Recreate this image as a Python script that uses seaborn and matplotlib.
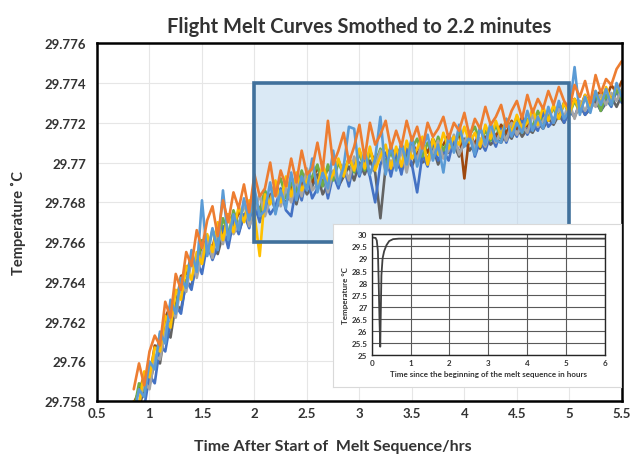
import numpy as np
import pandas as pd
import matplotlib
matplotlib.use("Agg")
import matplotlib.pyplot as plt
from matplotlib.patches import Rectangle
from matplotlib.ticker import FuncFormatter, MultipleLocator
import seaborn as sns

# sample times in hours (one point every 3 minutes)
time_hrs = np.round(np.arange(0.85, 5.5001, 0.05), 2)

# melt curves, in mK above 29.750 C
orange_mk = [8.6, 9.9, 8.8, 10.5, 11.3, 10.8, 13.0, 12.2, 14.4, 13.6,
             15.5, 14.8, 16.6, 15.7, 17.1, 17.8, 16.3, 18.1, 17.0, 18.5,
             17.7, 18.9, 17.5, 19.4, 18.3, 18.7, 20.0, 18.3, 19.6, 18.8,
             20.2, 19.0, 20.6, 19.4, 19.7, 21.0, 19.6, 22.1, 19.9, 20.6,
             21.5, 20.0, 20.8, 21.9, 20.2, 22.0, 20.9, 21.4, 22.1, 20.7,
             21.6, 20.8, 22.1, 21.1, 21.8, 20.7, 22.0, 21.3, 21.7, 22.3,
             21.2, 22.0, 21.6, 22.5, 21.3, 22.2, 21.7, 22.8, 21.9, 22.3,
             22.9, 21.8, 22.6, 23.1, 22.2, 23.4, 22.5, 23.2, 22.7, 23.6,
             22.9, 23.8, 23.1, 22.7, 23.9, 23.3, 24.1, 23.0, 24.4, 23.5,
             24.2, 23.9, 24.7, 25.1]
blue_mk = [7.3, 8.6, 8.2, 10.0, 9.6, 11.5, 10.9, 13.1, 12.4, 14.2,
           13.7, 15.6, 14.5, 18.1, 15.3, 16.7, 15.6, 18.6, 16.1, 17.4,
           16.6, 18.2, 17.1, 18.7, 17.3, 17.6, 19.0, 17.4, 18.6, 17.7,
           19.5, 18.1, 19.3, 18.6, 20.2, 18.5, 19.5, 18.7, 20.6, 18.9,
           19.8, 21.8, 21.7, 19.4, 20.6, 19.4, 20.2, 22.3, 19.4, 20.9,
           19.6, 21.0, 19.9, 21.3, 19.8, 20.7, 21.4, 20.1, 20.9, 19.5,
           21.4, 20.5, 21.9, 20.8, 21.3, 20.4, 21.8, 20.9, 22.0, 21.1,
           21.0, 22.2, 21.3, 22.0, 21.5, 22.6, 21.6, 22.3, 21.7, 22.8,
           22.0, 23.1, 22.2, 22.6, 24.8, 22.4, 23.3, 22.5, 23.6, 22.9,
           23.7, 22.9, 24.0, 23.3]
gray_mk = [7.0, 7.9, 9.0, 8.6, 10.3, 10.1, 11.5, 12.6, 12.2, 13.9,
           13.5, 15.1, 14.2, 15.4, 16.1, 15.2, 16.7, 15.9, 17.3, 16.4,
           16.9, 18.0, 16.8, 17.5, 18.4, 17.3, 18.1, 18.9, 17.8, 18.7,
           18.0, 19.1, 18.3, 19.7, 18.6, 18.9, 19.7, 18.5, 19.6, 19.0,
           19.9, 19.1, 20.3, 19.5, 20.4, 19.5, 19.8, 20.6, 19.5, 20.1,
           19.7, 20.6, 19.5, 20.8, 20.1, 21.2, 19.9, 20.5, 21.1, 20.2,
           20.6, 21.4, 20.4, 21.0, 21.6, 20.7, 21.2, 20.8, 21.7, 21.0,
           21.6, 21.1, 22.0, 21.4, 21.9, 21.5, 22.4, 21.8, 22.1, 22.6,
           22.0, 22.7, 22.3, 23.0, 22.2, 23.1, 22.6, 23.2, 22.8, 23.4,
           22.9, 23.5, 23.1, 23.7]
yellow_mk = [8.0, 7.8, 9.5, 9.2, 10.7, 10.5, 12.3, 11.7, 13.6, 13.1,
             14.8, 14.1, 15.5, 14.9, 16.4, 15.5, 17.0, 16.1, 17.4, 16.5,
             17.8, 17.0, 18.1, 17.4, 15.3, 18.4, 17.9, 19.1, 18.0, 19.3,
             18.3, 19.5, 18.6, 19.1, 19.9, 18.8, 19.9, 19.0, 19.4, 20.2,
             19.3, 20.3, 19.6, 20.7, 19.7, 20.8, 19.6, 20.3, 20.9, 19.7,
             20.8, 19.8, 21.1, 20.2, 20.7, 21.3, 19.9, 21.2, 20.4, 21.5,
             20.7, 21.3, 20.9, 21.8, 21.0, 21.5, 20.8, 21.9, 21.2, 22.1,
             21.3, 22.2, 21.5, 22.4, 21.7, 22.0, 22.7, 21.9, 22.8, 22.1,
             22.9, 22.2, 23.0, 22.5, 23.2, 22.6, 23.4, 22.8, 23.6, 23.0,
             23.8, 23.1, 23.9, 23.4]
darkblue_mk = [6.8, 8.0, 7.7, 9.3, 8.9, 10.8, 10.5, 12.0, 12.8, 12.4,
               14.1, 13.6, 15.1, 14.4, 15.9, 15.1, 15.8, 16.8, 15.7, 17.1,
               16.4, 17.4, 16.7, 17.9, 17.0, 18.1, 17.4, 17.8, 18.7, 17.6,
               17.3, 18.9, 18.1, 19.3, 18.2, 18.7, 19.6, 18.2, 19.4, 18.7,
               19.8, 18.8, 20.1, 19.3, 20.2, 19.3, 18.0, 19.9, 20.5, 19.3,
               20.5, 19.4, 20.7, 19.9, 18.5, 20.4, 19.8, 21.0, 20.1, 20.6,
               20.1, 21.2, 20.5, 20.9, 21.5, 20.3, 21.1, 20.6, 21.4, 20.8,
               21.7, 21.0, 21.8, 21.3, 22.2, 21.4, 21.9, 21.6, 22.5, 21.8,
               22.1, 22.9, 22.0, 22.6, 22.3, 23.0, 22.4, 22.8, 23.3, 22.6,
               23.2, 22.8, 23.6, 23.0]
green_mk = [7.5, 8.9, 8.5, 9.9, 9.7, 11.4, 11.3, 12.9, 12.6, 14.2,
            13.9, 15.4, 14.7, 16.1, 15.4, 16.6, 16.0, 17.2, 16.4, 17.6,
            16.8, 17.9, 17.3, 18.3, 17.5, 18.6, 18.0, 18.6, 19.2, 18.2,
            19.0, 18.5, 19.6, 18.8, 19.3, 19.9, 18.8, 19.9, 19.1, 20.0,
            19.4, 20.2, 19.5, 20.5, 19.6, 20.5, 19.9, 20.7, 19.9, 20.5,
            19.9, 20.9, 20.1, 20.7, 21.2, 20.3, 21.0, 20.4, 21.3, 20.6,
            21.2, 20.6, 21.6, 20.9, 21.4, 21.8, 21.0, 21.6, 21.1, 21.9,
            21.2, 22.0, 21.6, 22.3, 21.5, 22.2, 21.8, 22.6, 22.0, 22.4,
            22.7, 22.2, 23.0, 22.4, 23.1, 22.5, 23.3, 22.7, 23.5, 22.6,
            23.4, 22.9, 23.7, 23.1]
darkgray_mk = [7.1, 7.7, 8.6, 8.8, 10.0, 9.9, 11.7, 11.2, 12.9, 12.6,
               14.0, 13.8, 14.9, 15.0, 15.5, 15.8, 15.4, 16.4, 16.1, 16.8,
               16.5, 17.3, 17.1, 17.7, 17.2, 17.5, 18.4, 17.6, 18.2, 18.0,
               18.5, 17.9, 19.0, 18.4, 18.8, 19.4, 18.4, 18.9, 19.5, 18.8,
               19.3, 19.8, 19.1, 20.0, 19.4, 20.1, 19.5, 17.2, 19.8, 19.6,
               20.0, 19.6, 20.3, 19.8, 20.5, 20.0, 20.2, 20.8, 19.9, 20.5,
               20.5, 20.9, 20.3, 21.2, 20.6, 21.0, 20.7, 21.3, 20.9, 21.2,
               21.0, 21.5, 21.2, 21.8, 21.3, 21.7, 21.5, 22.0, 21.7, 22.2,
               21.9, 22.4, 22.0, 22.6, 22.3, 22.9, 22.4, 22.7, 23.1, 22.6,
               23.0, 23.3, 22.8, 23.4]
brown_mk = [7.9, 8.5, 9.3, 9.1, 10.8, 10.7, 12.2, 12.8, 12.7, 14.3,
            14.4, 15.3, 14.8, 15.9, 16.1, 15.7, 16.9, 16.3, 17.4, 16.7,
            17.5, 17.2, 18.0, 18.1, 17.6, 18.5, 18.2, 19.0, 18.3, 19.1,
            18.6, 19.4, 18.7, 19.6, 19.0, 19.8, 18.9, 19.8, 19.2, 20.1,
            19.5, 20.2, 19.7, 20.6, 19.8, 20.6, 20.0, 20.6, 20.0, 20.8,
            20.1, 20.9, 20.3, 21.1, 20.4, 21.0, 20.5, 21.2, 20.7, 20.9,
            21.4, 20.8, 21.6, 19.2, 21.5, 20.9, 21.7, 21.1, 21.8, 21.3,
            21.9, 21.5, 22.1, 21.7, 22.3, 21.8, 22.5, 22.0, 22.6, 22.2,
            22.8, 22.3, 23.0, 22.6, 23.2, 22.7, 23.4, 22.9, 23.3, 23.6,
            23.2, 23.9, 23.5, 24.1]

series_names = ["darkgray", "brown", "darkblue", "green", "gray", "yellow", "blue", "orange"]
series_colors = ["#636363", "#9E480E", "#4472C4", "#70AD47", "#A5A5A5", "#FFC000", "#5B9BD5", "#ED7D31"]

# full melt sequence shown in the inset
inset_time = [0, 0.05, 0.1, 0.13, 0.16, 0.18, 0.2, 0.22, 0.23, 0.25, 0.28, 0.32,
              0.38, 0.45, 0.55, 0.7, 1, 2, 3, 4, 5, 6]
inset_temp = [29.88, 29.86, 29.85, 29.75, 29.3, 28.0, 26.5, 25.35, 26.4, 28.3, 29.0, 29.3,
              29.55, 29.72, 29.8, 29.82, 29.82, 29.82, 29.82, 29.82, 29.82, 29.82]

# zoom box drawn on the main chart (hours, C)
box_t0, box_t1 = 2, 5
box_lo, box_hi = 29.766, 29.774

sns.set_theme(style="white")
plt.rcParams["font.family"] = ["Lato", "DejaVu Sans"]
TXT = "#333333"

curves = {"darkgray": darkgray_mk, "brown": brown_mk, "darkblue": darkblue_mk, "green": green_mk,
          "gray": gray_mk, "yellow": yellow_mk, "blue": blue_mk, "orange": orange_mk}
frames = []
for name in series_names:
    frames.append(pd.DataFrame({"time": time_hrs, "temp": 29.75 + np.array(curves[name]) / 1000.0,
                                "series": name}))
df = pd.concat(frames, ignore_index=True)

fig = plt.figure(figsize=(6.3, 4.56), dpi=100)
ax = fig.add_axes([0.154, 0.118, 0.833, 0.785])

ax.add_patch(Rectangle((box_t0, box_lo), box_t1 - box_t0, box_hi - box_lo,
                       facecolor="#bdd7ee", alpha=0.55, edgecolor="none", zorder=1))
sns.lineplot(data=df, x="time", y="temp", hue="series", hue_order=series_names,
             palette=series_colors, legend=False, sort=False, linewidth=1.9, ax=ax, zorder=2)
ax.add_patch(Rectangle((box_t0, box_lo), box_t1 - box_t0, box_hi - box_lo,
                       facecolor="none", edgecolor="#41719C", linewidth=2.6, zorder=3))

ax.set_xlim(0.5, 5.5)
ax.set_ylim(29.758, 29.776)
ax.xaxis.set_major_locator(MultipleLocator(0.5))
ax.yaxis.set_major_locator(MultipleLocator(0.002))
ax.xaxis.set_major_formatter(FuncFormatter(lambda v, p: f"{v:g}"))
ax.yaxis.set_major_formatter(FuncFormatter(lambda v, p: f"{round(v, 3):g}"))
ax.grid(True, color="#e6e6e6", linewidth=0.8)
ax.set_axisbelow(True)
for s in ax.spines.values():
    s.set_color("black")
    s.set_linewidth(1.8)
ax.tick_params(axis="y", length=0, labelsize=9.5, labelcolor=TXT, pad=8)
ax.tick_params(axis="x", length=0, labelsize=9.5, labelcolor=TXT, pad=4)
for lab in ax.get_xticklabels() + ax.get_yticklabels():
    lab.set_fontweight("bold")

ax.set_title("Flight Melt Curves Smothed to 2.2 minutes", fontsize=14.5, fontweight="bold",
             color=TXT, pad=8)
ax.set_xlabel("Time After Start of  Melt Sequence/hrs", fontsize=11.5, fontweight="bold", color=TXT)
ax.xaxis.set_label_coords(0.45, -0.105)
ax.set_ylabel("Temperature ˚C", fontsize=10.5, fontweight="bold", color=TXT)
ax.yaxis.set_label_coords(-0.135, 0.5)

# inset panel
panel = fig.add_axes([0.529, 0.149, 0.456, 0.357])
panel.set_facecolor("white")
panel.set_xticks([])
panel.set_yticks([])
for s in panel.spines.values():
    s.set_color("#d9d9d9")
    s.set_linewidth(0.8)
panel.set_zorder(5)

ins = fig.add_axes([0.590, 0.219, 0.370, 0.265])
ins.set_zorder(6)
sns.lineplot(x=inset_time, y=inset_temp, color="#404040", linewidth=1.3, ax=ins)
ins.set_xlim(0, 6)
ins.set_ylim(25, 30)
ins.xaxis.set_major_locator(MultipleLocator(1))
ins.yaxis.set_major_locator(MultipleLocator(0.5))
ins.yaxis.set_major_formatter(FuncFormatter(lambda v, p: f"{v:g}"))
ins.grid(True, color="#595959", linewidth=0.8)
ins.set_axisbelow(True)
for s in ins.spines.values():
    s.set_color("#262626")
    s.set_linewidth(1.0)
ins.tick_params(axis="both", length=0, labelsize=5.8, labelcolor=TXT, pad=3)
for lab in ins.get_xticklabels() + ins.get_yticklabels():
    lab.set_fontweight("bold")
ins.set_xlabel("Time since the beginning of the melt sequence in hours", fontsize=5.8,
               fontweight="bold", color=TXT, labelpad=3)
ins.set_ylabel("Temperature °C", fontsize=5.8, fontweight="bold", color=TXT, labelpad=2)

fig.savefig("out.png", dpi=100)
